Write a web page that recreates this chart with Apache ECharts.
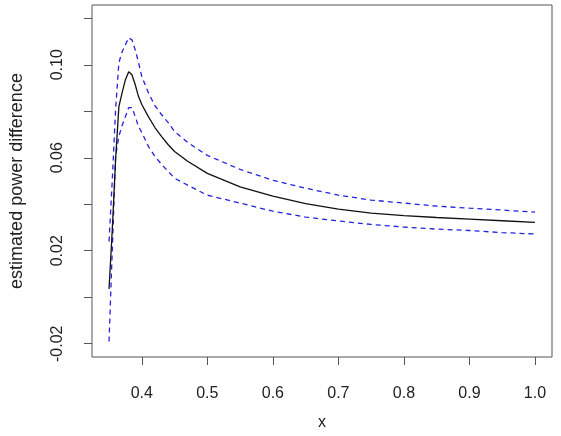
<!DOCTYPE html>
<html>
<head>
<meta charset="utf-8">
<script src="https://cdn.jsdelivr.net/npm/echarts@6/dist/echarts.min.js"></script>
<style>
  html, body { margin: 0; padding: 0; background: #fff; }
  #chart { width: 561px; height: 436px; }
</style>
</head>
<body>
<div id="chart"></div>
<script>
// x positions
const xs = [0.35, 0.355, 0.36, 0.365, 0.37, 0.375, 0.38, 0.3825, 0.385, 0.39, 0.395, 0.40,
  0.41, 0.42, 0.43, 0.44, 0.45, 0.47, 0.50, 0.55, 0.60, 0.65, 0.70, 0.75, 0.80, 0.85, 0.90, 0.95, 1.00];
// estimate (black solid)
const est = [0.0036, 0.0293, 0.0593, 0.082, 0.088, 0.0936, 0.097, 0.0974, 0.0957, 0.0914, 0.0863, 0.0829,
  0.0777, 0.073, 0.0692, 0.0657, 0.0627, 0.0585, 0.0533, 0.0475, 0.0435, 0.0403, 0.0379, 0.0362, 0.0351, 0.0343, 0.0336, 0.0329, 0.0322];
// upper band (blue dashed)
const upper = [0.024, 0.0507, 0.0807, 0.1009, 0.1056, 0.1086, 0.1116, 0.1124, 0.1107, 0.1064, 0.1009, 0.0949,
  0.088, 0.0824, 0.0786, 0.0752, 0.0713, 0.0666, 0.061, 0.055, 0.0503, 0.0469, 0.0439, 0.0418, 0.0405, 0.0392, 0.0383, 0.0375, 0.0366];
// lower band (blue dashed)
const lower = [-0.019, 0.0208, 0.0606, 0.0692, 0.0739, 0.0777, 0.0816, 0.0824, 0.0816, 0.0777, 0.0734, 0.0709,
  0.0649, 0.0606, 0.0572, 0.0542, 0.0512, 0.0482, 0.0439, 0.0405, 0.037, 0.0345, 0.0328, 0.0313, 0.0302, 0.0293, 0.0287, 0.0278, 0.0272];

const xTicks = [0.4, 0.5, 0.6, 0.7, 0.8, 0.9, 1.0];
const yTicks = [-0.02, 0, 0.02, 0.04, 0.06, 0.08, 0.10, 0.12];
const yLabels = [-0.02, 0.02, 0.06, 0.10];

const pair = arr => xs.map((x, i) => [x, arr[i]]);
const font = 'Liberation Sans, Arial, sans-serif';

const chart = echarts.init(document.getElementById('chart'));
chart.setOption({
  animation: false,
  grid: {
    left: 87, top: 5, right: 9, bottom: 77,
    show: true, borderColor: '#555', borderWidth: 1
  },
  xAxis: {
    type: 'value', min: 0.324, max: 1.026,
    name: 'x', nameLocation: 'middle', nameGap: 58,
    nameTextStyle: { fontSize: 16, color: '#222', fontFamily: font },
    axisLine: { show: false, onZero: false },
    splitLine: { show: false },
    axisTick: { show: true, length: 8, customValues: xTicks, lineStyle: { color: '#555' } },
    axisLabel: {
      customValues: xTicks, margin: 29, fontSize: 16, color: '#222', fontFamily: font,
      formatter: v => v.toFixed(1)
    }
  },
  yAxis: {
    type: 'value', min: -0.0257, max: 0.1257,
    name: 'estimated power difference', nameLocation: 'middle', nameGap: 66,
    nameTextStyle: { fontSize: 18, color: '#222', fontFamily: font },
    axisLine: { show: false, onZero: false },
    splitLine: { show: false },
    axisTick: { show: true, length: 8, customValues: yTicks, lineStyle: { color: '#555' } },
    axisLabel: {
      customValues: yLabels, rotate: 90, margin: 26, fontSize: 16, color: '#222', fontFamily: font,
      formatter: v => v.toFixed(2)
    }
  },
  series: [
    {
      type: 'line', data: pair(upper), showSymbol: false,
      lineStyle: { color: '#2222dd', width: 1.3, type: [5, 4] }
    },
    {
      type: 'line', data: pair(lower), showSymbol: false,
      lineStyle: { color: '#2222dd', width: 1.3, type: [5, 4] }
    },
    {
      type: 'line', data: pair(est), showSymbol: false,
      lineStyle: { color: '#111', width: 1.3 }
    }
  ]
});
</script>
</body>
</html>
